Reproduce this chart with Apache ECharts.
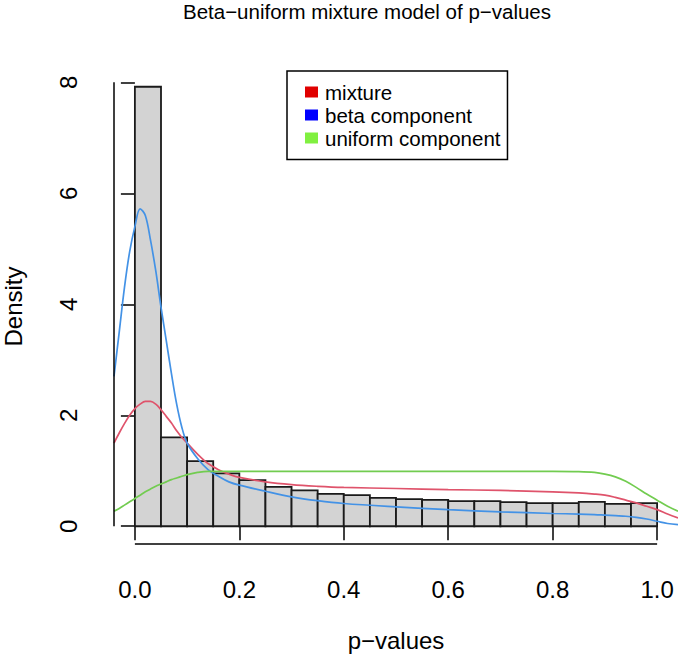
<!DOCTYPE html>
<html>
<head>
<meta charset="utf-8">
<script src="https://cdn.jsdelivr.net/npm/echarts@6/dist/echarts.min.js"></script>
<style>
html,body{margin:0;padding:0;background:#fff;}
#chart{width:678px;height:662px;}
</style>
</head>
<body>
<div id="chart"></div>
<script>
// ---- data ----
var binStarts = [0.00,0.05,0.10,0.15,0.20,0.25,0.30,0.35,0.40,0.45,0.50,0.55,0.60,0.65,0.70,0.75,0.80,0.85,0.90,0.95];
var binEnds   = [0.05,0.10,0.15,0.20,0.25,0.30,0.35,0.40,0.45,0.50,0.55,0.60,0.65,0.70,0.75,0.80,0.85,0.90,0.95,1.00];
var densities = [7.92,1.60,1.175,0.952,0.831,0.71,0.645,0.584,0.56,0.512,0.49,0.475,0.452,0.452,0.434,0.416,0.416,0.44,0.403,0.416];

var curveX = [-0.04,-0.03,-0.02,-0.01,0,0.01,0.02,0.03,0.04,0.05,0.06,0.07,0.08,0.09,0.10,0.12,0.14,0.16,0.18,0.20,0.25,0.30,0.35,0.40,0.50,0.60,0.70,0.80,0.85,0.88,0.90,0.92,0.94,0.96,0.98,1.00,1.02,1.04];
var mixtureY = [1.5,1.68,1.85,2.0,2.12,2.2,2.25,2.25,2.2,2.1,1.98,1.86,1.72,1.6,1.5,1.3,1.13,1.02,0.94,0.88,0.8,0.75,0.72,0.7,0.68,0.66,0.645,0.62,0.6,0.58,0.56,0.52,0.47,0.42,0.36,0.3,0.22,0.15];
var betaY    = [2.7,3.5,4.3,4.95,5.4,5.72,5.6,5.15,4.6,3.95,3.35,2.75,2.2,1.78,1.5,1.22,1.02,0.9,0.8,0.74,0.63,0.53,0.46,0.41,0.35,0.3,0.26,0.23,0.22,0.21,0.2,0.19,0.18,0.16,0.13,0.09,0.05,0.03];
var uniformY = [0.27,0.32,0.38,0.44,0.5,0.56,0.62,0.67,0.72,0.76,0.8,0.84,0.87,0.9,0.93,0.97,0.99,0.99,0.99,0.99,0.99,0.99,0.99,0.99,0.99,0.99,0.99,0.99,0.985,0.97,0.94,0.89,0.81,0.7,0.58,0.47,0.36,0.27];

var xTicks = [0,0.2,0.4,0.6,0.8,1.0];
var yTicks = [0,2,4,6,8];
var seriesNames = ['mixture','beta component','uniform component'];

// ---- build ----
function zip(xs, ys){ var out=[]; for (var i=0;i<xs.length;i++) out.push([xs[i], ys[i]]); return out; }
var histData = binStarts.map(function(s,i){ return [s, binEnds[i], densities[i]]; });

var X_MIN=-0.04, X_MAX=1.04, Y_MIN=-0.32, Y_MAX=8.24;
var FONT = 'Liberation Sans, Arial, Helvetica, sans-serif';
var FS = 20.5;   // title + legend
var FA = 24;     // axis labels and titles

var chart = echarts.init(document.getElementById('chart'), null, {renderer:'svg'});
chart.setOption({
  animation:false,
  backgroundColor:'#ffffff',
  title:{
    text:'Beta\u2212uniform mixture model of p\u2212values',
    left:367, top:1, padding:0, textAlign:'center',
    textStyle:{fontFamily:FONT, fontSize:FS, fontWeight:'normal', color:'#000'}
  },
  legend:{
    data:[
      {name:seriesNames[0], itemStyle:{color:'#e00000'}},
      {name:seriesNames[1], itemStyle:{color:'#0000ff'}},
      {name:seriesNames[2], itemStyle:{color:'#80f040'}}
    ],
    icon:'rect', orient:'vertical',
    left:287, top:71,
    padding:[10.5,7,11,18],
    itemWidth:13, itemHeight:11, itemGap:2,
    borderColor:'#000', borderWidth:1.5, borderRadius:0,
    textStyle:{fontFamily:FONT, fontSize:FS, color:'#000', lineHeight:20, padding:[0,0,0,2]},
    selectedMode:false
  },
  grid:{left:114, right:0, top:69, bottom:118, containLabel:false, outerBoundsMode:'none'},
  xAxis:{
    type:'value', min:X_MIN, max:X_MAX,
    name:'p\u2212values', nameLocation:'middle', nameGap:84,
    nameTextStyle:{fontFamily:FONT, fontSize:FA, color:'#000'},
    axisLine:{show:false},
    axisTick:{show:true, customValues:xTicks, length:14, lineStyle:{color:'#000', width:1.5}},
    axisLabel:{show:true, customValues:xTicks, margin:33, fontFamily:FONT, fontSize:FA, color:'#000',
      formatter:function(v){ return v.toFixed(1); }},
    splitLine:{show:false}
  },
  yAxis:{
    type:'value', min:Y_MIN, max:Y_MAX,
    name:'Density', nameLocation:'middle', nameGap:89, nameRotate:90,
    nameTextStyle:{fontFamily:FONT, fontSize:FA, color:'#000'},
    axisLine:{show:false},
    axisTick:{show:true, customValues:yTicks, length:14, lineStyle:{color:'#000', width:1.5}},
    axisLabel:{show:true, customValues:yTicks, margin:34, rotate:90, fontFamily:FONT, fontSize:FA, color:'#000'},
    splitLine:{show:false}
  },
  series:[
    {
      type:'custom', name:'histogram', data:histData,
      encode:{x:[0,1], y:2},
      renderItem:function(params, api){
        var p0 = api.coord([api.value(0), api.value(2)]);
        var p1 = api.coord([api.value(1), 0]);
        return {type:'rect', shape:{x:p0[0], y:p0[1], width:p1[0]-p0[0], height:p1[1]-p0[1]},
          style:{fill:'#d3d3d3', stroke:'#1a1a1a', lineWidth:1.8}};
      },
      z:2
    },
    {type:'line', name:seriesNames[0], data:zip(curveX, mixtureY), smooth:0.35, symbol:'none',
      lineStyle:{color:'#DF536B', width:1.7}, itemStyle:{color:'#DF536B'}, z:3},
    {type:'line', name:seriesNames[1], data:zip(curveX, betaY), smooth:0.35, symbol:'none',
      lineStyle:{color:'#4392E6', width:1.7}, itemStyle:{color:'#4392E6'}, z:3},
    {type:'line', name:seriesNames[2], data:zip(curveX, uniformY), smooth:0.35, symbol:'none',
      lineStyle:{color:'#72CC50', width:1.7}, itemStyle:{color:'#72CC50'}, z:3},
    // axis lines (drawn only between first and last tick, like R)
    {type:'line', name:'yaxisline', data:[[X_MIN, yTicks[0]],[X_MIN, yTicks[yTicks.length-1]]], symbol:'none',
      clip:false, silent:true, lineStyle:{color:'#000', width:1.5}, z:5},
    {type:'line', name:'xaxisline', data:[[xTicks[0], Y_MIN],[xTicks[xTicks.length-1], Y_MIN]], symbol:'none',
      clip:false, silent:true, lineStyle:{color:'#000', width:1.5}, z:5}
  ]
});
</script>
</body>
</html>
